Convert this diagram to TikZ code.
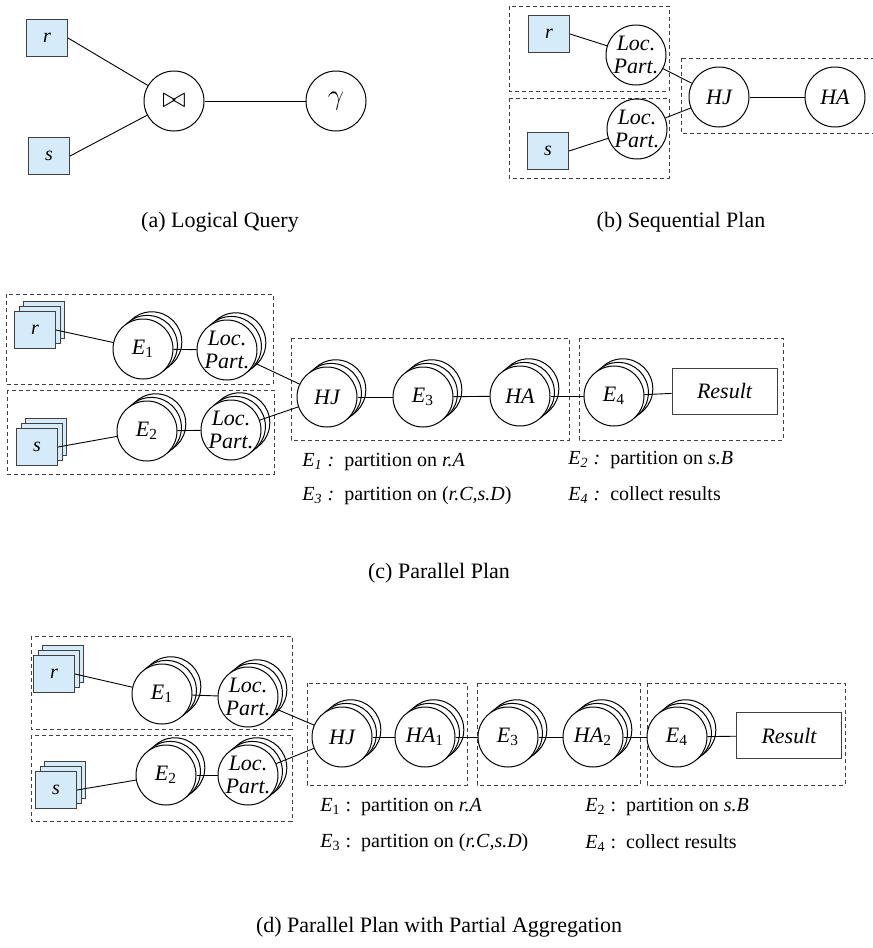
\documentclass[tikz,border=0pt]{standalone}
\usepackage{fontspec}
\setmainfont{Liberation Serif}
\usepackage{xcolor}
\usetikzlibrary{shadows, positioning}
\definecolor{relblue}{RGB}{214,235,249}
\newcommand{\ex}[1]{\textit{E}\textsubscript{\upshape #1}}
\tikzset{
  rel/.style={rectangle, draw=black!75, fill=relblue, line width=0.5pt,
    minimum width=20.5pt, minimum height=18.5pt, inner sep=0pt, font=\itshape},
  relstack/.style={rel,
    copy shadow={shadow xshift=4.6pt, shadow yshift=5pt, fill=relblue, draw=black!75, line width=0.5pt},
    copy shadow={shadow xshift=2.3pt, shadow yshift=2.5pt, fill=relblue, draw=black!75, line width=0.5pt}},
  op/.style={circle, draw=black, fill=white, line width=0.5pt, minimum size=30pt,
    inner sep=0pt, font=\fontsize{11}{11.5}\selectfont\itshape, align=center},
  opstack/.style={op,
    copy shadow={shadow xshift=4.4pt, shadow yshift=3.6pt, fill=white, draw=black, line width=0.5pt},
    copy shadow={shadow xshift=2.2pt, shadow yshift=1.8pt, fill=white, draw=black, line width=0.5pt}},
  result/.style={rectangle, draw=black!75, line width=0.5pt, minimum width=52.5pt,
    minimum height=23pt, font=\fontsize{11}{13}\selectfont\itshape},
  stage/.style={draw=black!75, dash pattern=on 2pt off 1.5pt, line width=0.45pt},
  link/.style={draw=black, line width=0.45pt},
  legend/.style={anchor=west, inner sep=0pt},
  caption/.style={font=\fontsize{11}{13}\selectfont},
}

\begin{document}
\begin{tikzpicture}[x=0.5pt, y=-0.5pt]
\useasboundingbox (0,0) rectangle (873,948);

% (a) logical query
\node[rel] (ar) at (47,38) {r};
\node[rel] (as) at (49,156) {s};
\node[op, font=\Large] (ajoin) at (174,101) {$\bowtie$};
\node[op, font=\Large] (agam) at (336,101) {$\gamma$};
\draw[link] (ar.east) -- (ajoin);
\draw[link] (as.east) -- (ajoin);
\draw[link] (ajoin) -- (agam);
\node[caption] (capa) at (220,222) {(a) Logical Query};

% (b) sequential plan
\draw[stage] (509,6) rectangle (669,91);
\draw[stage] (509,98) rectangle (669,178);
\draw[stage] (681,58) rectangle (878,133);
\node[rel] (br) at (549,34) {r};
\node[rel] (bs) at (548,151) {s};
\node[op] (blp1) at (636,55) {Loc.\\Part.};
\node[op] (blp2) at (637,129) {Loc.\\Part.};
\node[op] (bhj) at (719,97) {HJ};
\node[op] (bha) at (835,97) {HA};
\draw[link] (br.east) -- (blp1);
\draw[link] (bs.east) -- (blp2);
\draw[link] (blp1) -- (bhj);
\draw[link] (blp2) -- (bhj);
\draw[link] (bhj) -- (bha);
\node[caption] (capb) at (681,222) {(b) Sequential Plan};

% (c) parallel plan
\draw[stage] (6,294) rectangle (273,384);
\draw[stage] (7,390) rectangle (274,474);
\draw[stage] (291,338) rectangle (569,440);
\draw[stage] (579,338) rectangle (783,440);
\node[relstack] (cr) at (35,330) {r};
\node[relstack] (cs) at (37,447) {s};
\node[opstack] (ce1) at (143,349) {\ex{1}};
\node[opstack] (clp1) at (227,350) {Loc.\\Part.};
\node[opstack] (ce2) at (147,431) {\ex{2}};
\node[opstack] (clp2) at (231,430) {Loc.\\Part.};
\node[opstack] (chj) at (327,397) {HJ};
\node[opstack] (ce3) at (423,397) {\ex{3}};
\node[opstack] (cha) at (520,396) {HA};
\node[opstack] (ce4) at (614,396) {\ex{4}};
\node[result] (cres) at (724.5,391) {Result};
\draw[link] (cr.east) -- (ce1);
\draw[link] (ce1) -- (clp1);
\draw[link] (clp1) -- (chj);
\draw[link] (cs.east) -- (ce2);
\draw[link] (ce2) -- (clp2);
\draw[link] (clp2) -- (chj);
\draw[link] (chj) -- (ce3);
\draw[link] (ce3) -- (cha);
\draw[link] (cha) -- (ce4);
\draw[link] (ce4) -- (cres);
\node[legend] (cl1) at (302,462) {\textit{E}\textsubscript{\textit{1}}\textit{ :}\ \ partition on \textit{r.A}};
\node[legend] (cl3) at (302,496) {\textit{E}\textsubscript{\textit{3}}\textit{ :}\ \ partition on (\textit{r.C,s.D})};
\node[legend] (cl2) at (568,460) {\textit{E}\textsubscript{\textit{2}}\textit{ :}\ \ partition on \textit{s.B}};
\node[legend] (cl4) at (568,495) {\textit{E}\textsubscript{\textit{4}}\textit{ :}\ \ collect results};
\node[caption] (capc) at (439,573) {(c) Parallel Plan};

% (d) parallel plan with partial aggregation
\draw[stage] (31,636) rectangle (292,729);
\draw[stage] (31,735) rectangle (292,821);
\draw[stage] (307,683) rectangle (467,785);
\draw[stage] (477,683) rectangle (640,785);
\draw[stage] (647,683) rectangle (845,785);
\node[relstack] (dr) at (54,674) {r};
\node[relstack] (ds) at (56,790) {s};
\node[opstack] (de1) at (162,694) {\ex{1}};
\node[opstack] (dlp1) at (248,697) {Loc.\\Part.};
\node[opstack] (de2) at (166,775) {\ex{2}};
\node[opstack] (dlp2) at (248,775) {Loc.\\Part.};
\node[opstack] (dhj) at (342,737) {HJ};
\node[opstack] (dha1) at (425,737) {HA\textsubscript{\upshape 1}};
\node[opstack] (de3) at (508,737) {\ex{3}};
\node[opstack] (dha2) at (593,737) {HA\textsubscript{\upshape 2}};
\node[opstack] (de4) at (677,737) {\ex{4}};
\node[result] (dres) at (789,735.5) {Result};
\draw[link] (dr.east) -- (de1);
\draw[link] (de1) -- (dlp1);
\draw[link] (dlp1) -- (dhj);
\draw[link] (ds.east) -- (de2);
\draw[link] (de2) -- (dlp2);
\draw[link] (dlp2) -- (dhj);
\draw[link] (dhj) -- (dha1);
\draw[link] (dha1) -- (de3);
\draw[link] (de3) -- (dha2);
\draw[link] (dha2) -- (de4);
\draw[link] (de4) -- (dres);
\node[legend] (dl1) at (320,807) {\ex{1} :\ \ partition on \textit{r.A}};
\node[legend] (dl3) at (320,843) {\ex{3} :\ \ partition on (\textit{r.C,s.D})};
\node[legend] (dl2) at (585,807) {\ex{2} :\ \ partition on \textit{s.B}};
\node[legend] (dl4) at (585,843) {\ex{4} :\ \ collect results};
\node[caption] (capd) at (439,927) {(d) Parallel Plan with Partial Aggregation};

\end{tikzpicture}
\end{document}
